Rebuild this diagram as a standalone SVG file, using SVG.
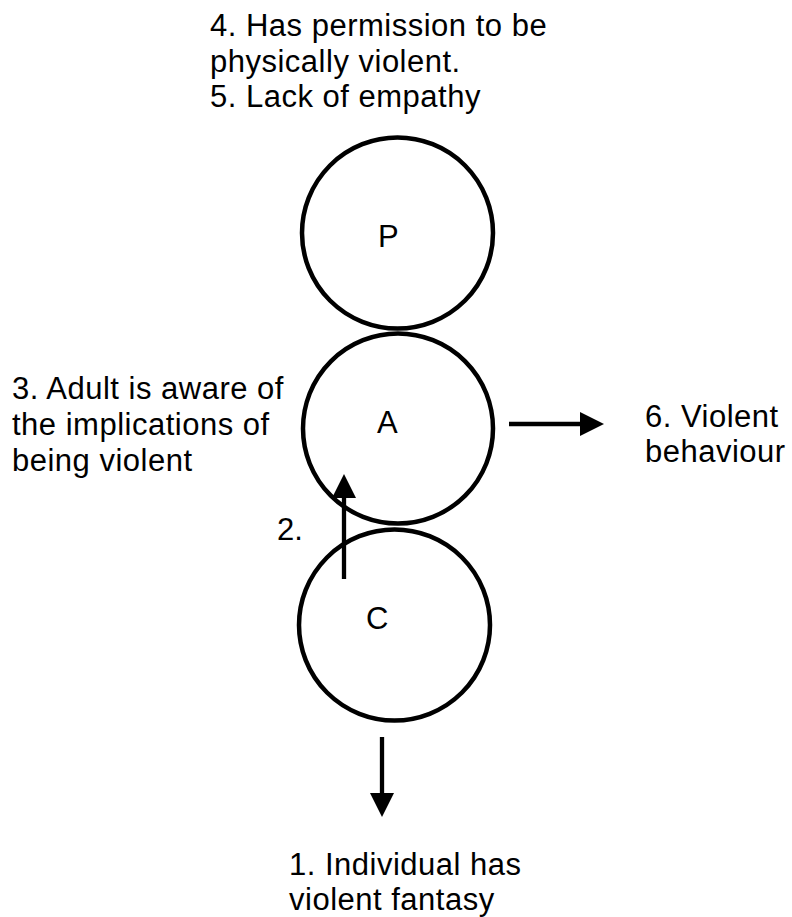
<svg xmlns="http://www.w3.org/2000/svg" width="792" height="917" viewBox="0 0 792 917">
  <style>
    .ring { fill: none; stroke: #000; stroke-width: 4.5; }
    .lbl { font-family: "Liberation Sans", Arial, Helvetica, sans-serif; font-size: 31px; fill: #000; }
    .note { letter-spacing: 0.5px; }
    .edge { stroke: #000; stroke-width: 4.3; fill: none; marker-end: url(#head); }
  </style>
  <defs>
    <marker id="head" viewBox="0 0 24 24" refX="0" refY="12" markerWidth="24" markerHeight="24" markerUnits="userSpaceOnUse" orient="auto">
      <path d="M0,0 L24,12 L0,24 z" fill="#000"/>
    </marker>
  </defs>
  <rect width="792" height="917" fill="#fff"/>

  <!-- ego states -->
  <g id="node-p">
    <circle class="ring" cx="397.5" cy="233" r="95.5"/>
    <text class="lbl" x="378" y="247">P</text>
  </g>
  <g id="node-a">
    <circle class="ring" cx="398" cy="428.5" r="95"/>
    <text class="lbl" x="377" y="433">A</text>
  </g>
  <g id="node-c">
    <circle class="ring" cx="394.5" cy="625" r="95.5"/>
    <text class="lbl" x="366" y="629">C</text>
  </g>

  <!-- arrows -->
  <g id="connectors">
    <line class="edge" x1="344" y1="579" x2="344" y2="498"/>
    <line class="edge" x1="509" y1="424" x2="580" y2="424"/>
    <line class="edge" x1="382" y1="737" x2="382" y2="793"/>
  </g>

  <!-- annotations -->
  <g id="note-top">
    <text class="lbl note" x="210" y="36">4. Has permission to be</text>
    <text class="lbl note" x="210" y="71.5">physically violent.</text>
    <text class="lbl note" x="210" y="107">5. Lack of empathy</text>
  </g>
  <g id="note-left">
    <text class="lbl note" x="12" y="399">3. Adult is aware of</text>
    <text class="lbl note" x="12" y="435">the implications of</text>
    <text class="lbl note" x="12" y="471">being violent</text>
  </g>
  <g id="note-right">
    <text class="lbl note" x="645" y="427">6. Violent</text>
    <text class="lbl note" x="645" y="462">behaviour</text>
  </g>
  <g id="note-step2">
    <text class="lbl" x="277" y="540">2.</text>
  </g>
  <g id="note-bottom">
    <text class="lbl note" x="289" y="875">1. Individual has</text>
    <text class="lbl note" x="289" y="910">violent fantasy</text>
  </g>
</svg>
